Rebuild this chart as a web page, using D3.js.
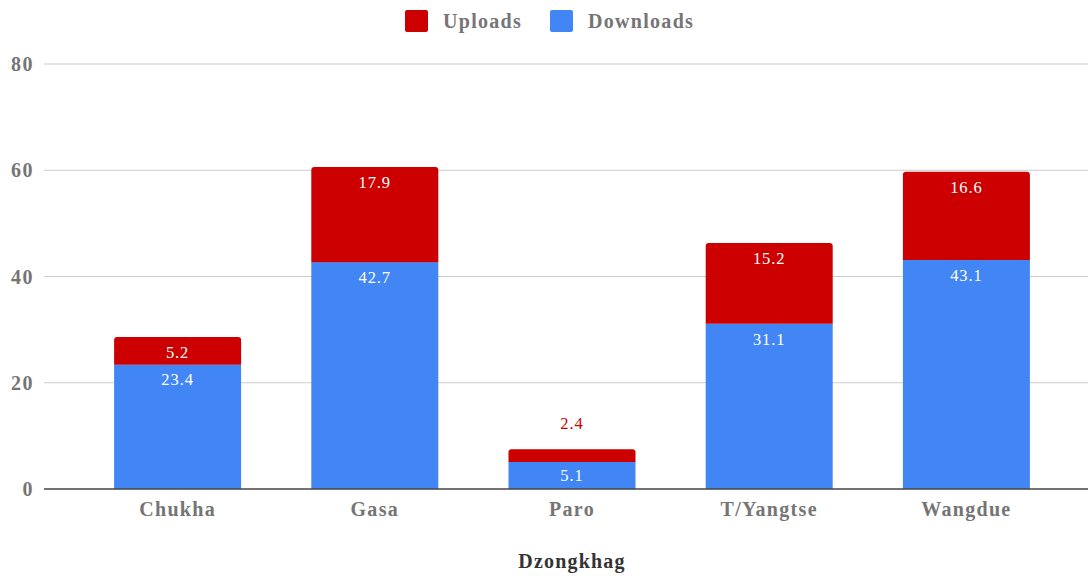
<!DOCTYPE html>
<html>
<head>
<meta charset="utf-8">
<script src="https://cdn.jsdelivr.net/npm/d3@7"></script>
<style>
  html, body { margin: 0; padding: 0; background: #fff; }
  svg { display: block; }
  text { font-family: "Liberation Serif", "Times New Roman", serif; }
</style>
</head>
<body>
<svg id="chart" width="1090" height="576"></svg>
<script>
// Internet speed (Mbps) by Dzongkhag
const categories = ["Chukha", "Gasa", "Paro", "T/Yangtse", "Wangdue"];
const downloads = [23.4, 42.7, 5.1, 31.1, 43.1];
const uploads = [5.2, 17.9, 2.4, 15.2, 16.6];
const yTicks = [0, 20, 40, 60, 80];
const seriesNames = ["Uploads", "Downloads"];
const seriesColors = ["#cc0000", "#4285f4"];

const svg = d3.select("#chart");
const plot = { left: 44, right: 1088, top: 64, bottom: 489 };

const x = d3.scaleBand()
  .domain(categories)
  .range([79, 1065])
  .paddingInner(0.356)
  .paddingOuter(0.178);

const y = d3.scaleLinear().domain([0, 80]).range([plot.bottom, plot.top]);

// gridlines
svg.append("g")
  .selectAll("line")
  .data(yTicks.filter(d => d !== 0))
  .join("line")
  .attr("x1", plot.left).attr("x2", plot.right)
  .attr("y1", d => y(d)).attr("y2", d => y(d))
  .attr("stroke", "#cccccc").attr("stroke-width", 1.2);

// y tick labels
svg.append("g")
  .selectAll("text")
  .data(yTicks)
  .join("text")
  .attr("x", 34).attr("y", d => y(d))
  .attr("dy", "0.35em")
  .attr("text-anchor", "end")
  .attr("font-size", 20).attr("font-weight", "bold")
  .attr("letter-spacing", 1.5)
  .attr("fill", "#757575")
  .text(d => d);

const rows = categories.map((c, i) => ({ c, down: downloads[i], up: uploads[i] }));

// path for a rect with rounded top corners
function topRounded(x0, y0, w, h, r) {
  r = Math.min(r, h, w / 2);
  return `M${x0},${y0 + h}V${y0 + r}Q${x0},${y0} ${x0 + r},${y0}H${x0 + w - r}Q${x0 + w},${y0} ${x0 + w},${y0 + r}V${y0 + h}Z`;
}

const bars = svg.append("g");
// downloads (bottom segment)
bars.selectAll("rect.down")
  .data(rows)
  .join("rect")
  .attr("class", "down")
  .attr("x", d => x(d.c))
  .attr("width", x.bandwidth())
  .attr("y", d => y(d.down))
  .attr("height", d => y(0) - y(d.down))
  .attr("fill", seriesColors[1]);

// uploads (top segment, rounded top)
bars.selectAll("path.up")
  .data(rows)
  .join("path")
  .attr("class", "up")
  .attr("d", d => topRounded(x(d.c), y(d.down + d.up), x.bandwidth(), y(d.down) - y(d.down + d.up), 3))
  .attr("fill", seriesColors[0]);

// zero baseline
svg.append("line")
  .attr("x1", plot.left).attr("x2", plot.right)
  .attr("y1", y(0)).attr("y2", y(0))
  .attr("stroke", "#444").attr("stroke-width", 1.6);

// value labels
const labels = svg.append("g")
  .attr("font-size", 16.5)
  .attr("letter-spacing", 0.9)
  .attr("text-anchor", "middle");
labels.selectAll("text.dl")
  .data(rows)
  .join("text")
  .attr("x", d => x(d.c) + x.bandwidth() / 2)
  .attr("y", d => y(d.down) + (y(0) - y(d.down) < 40 ? 13 : 15))
  .attr("dy", "0.35em")
  .attr("fill", "#ffffff")
  .text(d => d.down.toFixed(1));

labels.selectAll("text.ul")
  .data(rows)
  .join("text")
  .attr("x", d => x(d.c) + x.bandwidth() / 2)
  .attr("y", d => {
    const hgt = y(d.down) - y(d.down + d.up);
    return hgt < 24 && d.up < 4 ? y(d.down + d.up) - 26 : y(d.down + d.up) + 15;
  })
  .attr("dy", "0.35em")
  .attr("fill", d => (d.up < 4 ? "#cc0000" : "#ffffff"))
  .text(d => d.up.toFixed(1));

// x category labels
svg.append("g")
  .selectAll("text")
  .data(categories)
  .join("text")
  .attr("x", d => x(d) + x.bandwidth() / 2)
  .attr("y", 509)
  .attr("dy", "0.35em")
  .attr("text-anchor", "middle")
  .attr("font-size", 20).attr("font-weight", "bold")
  .attr("letter-spacing", 1.3)
  .attr("fill", "#757575")
  .text(d => d);

// axis title
svg.append("text")
  .attr("x", (x.range()[0] + x.range()[1]) / 2)
  .attr("y", 561)
  .attr("dy", "0.35em")
  .attr("text-anchor", "middle")
  .attr("font-size", 20).attr("font-weight", "bold")
  .attr("letter-spacing", 1.2)
  .attr("fill", "#333333")
  .text("Dzongkhag");

// legend
const legendPos = [405, 550];
const legend = svg.append("g")
  .selectAll("g")
  .data(seriesNames)
  .join("g")
  .attr("transform", (d, i) => `translate(${legendPos[i]},10)`);
legend.append("rect")
  .attr("width", 23).attr("height", 22).attr("rx", 2)
  .attr("fill", (d, i) => seriesColors[i]);
legend.append("text")
  .attr("x", 38).attr("y", 11).attr("dy", "0.35em")
  .attr("font-size", 20).attr("font-weight", "bold")
  .attr("letter-spacing", 1.3)
  .attr("fill", "#757575")
  .text(d => d);
</script>
</body>
</html>
